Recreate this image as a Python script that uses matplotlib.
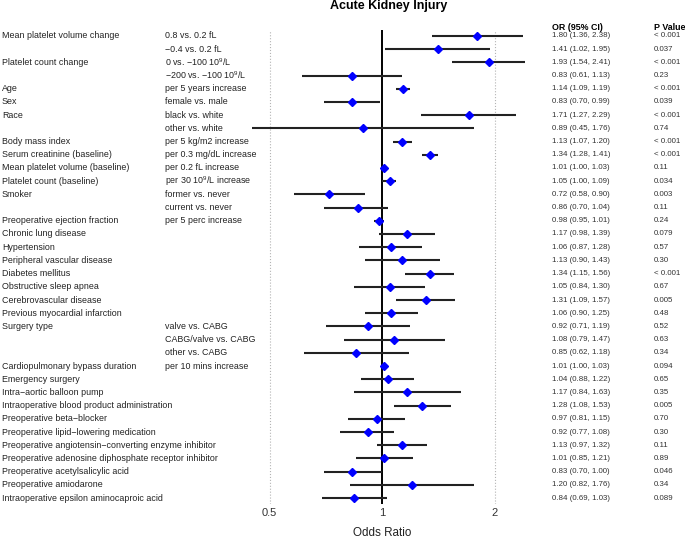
import matplotlib
matplotlib.use("Agg")
import matplotlib.pyplot as plt
import matplotlib.transforms as mtransforms
import numpy as np

plt.rcParams['font.family'] = ['Liberation Sans', 'DejaVu Sans']
plt.rcParams['mathtext.fontset'] = 'custom'
plt.rcParams['mathtext.rm'] = 'Liberation Sans'
plt.rcParams['mathtext.it'] = 'Liberation Sans'

# data
labels = ["Mean platelet volume change", "", "Platelet count change", "",
          "Age", "Sex", "Race", "",
          "Body mass index", "Serum creatinine (baseline)",
          "Mean platelet volume (baseline)", "Platelet count (baseline)",
          "Smoker", "", "Preoperative ejection fraction",
          "Chronic lung disease", "Hypertension", "Peripheral vascular disease",
          "Diabetes mellitus", "Obstructive sleep apnea", "Cerebrovascular disease",
          "Previous myocardial infarction", "Surgery type", "", "",
          "Cardiopulmonary bypass duration", "Emergency surgery",
          "Intra\u2212aortic balloon pump",
          "Intraoperative blood product administration",
          "Preoperative beta\u2212blocker",
          "Preoperative lipid\u2212lowering medication",
          "Preoperative angiotensin\u2212converting enzyme inhibitor",
          "Preoperative adenosine diphosphate receptor inhibitor",
          "Preoperative acetylsalicylic acid", "Preoperative amiodarone",
          "Intraoperative epsilon aminocaproic acid"]
sublabels = ["0.8 vs. 0.2 fL", "\u22120.4 vs. 0.2 fL",
             "0 vs. \u2212100 10$^9$/L", "\u2212200 vs. \u2212100 10$^9$/L",
             "per 5 years increase", "female vs. male",
             "black vs. white", "other vs. white",
             "per 5 kg/m2 increase", "per 0.3 mg/dL increase",
             "per 0.2 fL increase", "per 30 10$^9$/L increase",
             "former vs. never", "current vs. never", "per 5 perc increase",
             "", "", "", "", "", "", "",
             "valve vs. CABG", "CABG/valve vs. CABG", "other vs. CABG",
             "per 10 mins increase",
             "", "", "", "", "", "", "", "", "", ""]
odds = [1.80, 1.41, 1.93, 0.83, 1.14, 0.83, 1.71, 0.89, 1.13, 1.34, 1.01, 1.05,
        0.72, 0.86, 0.98, 1.17, 1.06, 1.13, 1.34, 1.05, 1.31, 1.06, 0.92, 1.08,
        0.85, 1.01, 1.04, 1.17, 1.28, 0.97, 0.92, 1.13, 1.01, 0.83, 1.20, 0.84]
ci_low = [1.36, 1.02, 1.54, 0.61, 1.09, 0.70, 1.27, 0.45, 1.07, 1.28, 1.00, 1.00,
          0.58, 0.70, 0.95, 0.98, 0.87, 0.90, 1.15, 0.84, 1.09, 0.90, 0.71, 0.79,
          0.62, 1.00, 0.88, 0.84, 1.08, 0.81, 0.77, 0.97, 0.85, 0.70, 0.82, 0.69]
ci_high = [2.38, 1.95, 2.41, 1.13, 1.19, 0.99, 2.29, 1.76, 1.20, 1.41, 1.03, 1.09,
           0.90, 1.04, 1.01, 1.39, 1.28, 1.43, 1.56, 1.30, 1.57, 1.25, 1.19, 1.47,
           1.18, 1.03, 1.22, 1.63, 1.53, 1.15, 1.08, 1.32, 1.21, 1.00, 1.76, 1.03]
pvals = ["< 0.001", "0.037", "< 0.001", "0.23", "< 0.001", "0.039", "< 0.001",
         "0.74", "< 0.001", "< 0.001", "0.11", "0.034", "0.003", "0.11", "0.24",
         "0.079", "0.57", "0.30", "< 0.001", "0.67", "0.005", "0.48", "0.52",
         "0.63", "0.34", "0.094", "0.65", "0.35", "0.005", "0.70", "0.30", "0.11",
         "0.89", "0.046", "0.34", "0.089"]
xticks = [0.5, 1, 2]
xtick_labels = ["0.5", "1", "2"]

W, H = 685, 540
fig = plt.figure(figsize=(W / 100, H / 100), dpi=100)

# axes placed in pixels: 1 at x=382, one doubling = 112.5 px
xmin, xmax = 0.42, 2.6
L = 382 + 112.5 * np.log2(xmin)
R = 382 + 112.5 * np.log2(xmax)
top, bottom = 30, 504
ax = fig.add_axes([L / W, 1 - bottom / H, (R - L) / W, (bottom - top) / H])
ax.set_xscale('log')
ax.set_xlim(xmin, xmax)
ax.set_ylim(36.45, 0.55)

y = np.arange(1, len(odds) + 1)

ax.axvline(0.5, color='#b4b4b4', lw=0.8, ls=':', zorder=0)
ax.axvline(2, color='#b4b4b4', lw=0.8, ls=':', zorder=0)
ax.axvline(1, color='black', lw=1.4, zorder=1)
ax.hlines(y, ci_low, ci_high, color='#222222', lw=1.5, zorder=2)
ax.plot(odds, y, 'D', color='#0000ff', markersize=4.5, zorder=3, lw=0)

for s in ax.spines.values():
    s.set_visible(False)
ax.set_yticks([])
ax.set_xticks(xticks)
ax.set_xticklabels(xtick_labels)
ax.xaxis.set_minor_locator(matplotlib.ticker.NullLocator())
ax.tick_params(axis='x', length=0, pad=3, labelsize=8, labelcolor='#333333')

trans = mtransforms.blended_transform_factory(fig.transFigure, ax.transData)
fs = 6.4
for i in range(len(odds)):
    ax.text(2 / W, y[i], labels[i], transform=trans, fontsize=fs,
            va='center', ha='left', color='#222222')
    if sublabels[i]:
        ax.text(165 / W, y[i], sublabels[i], transform=trans, fontsize=fs,
                va='center', ha='left', color='#222222')
    ax.text(552 / W, y[i], "%.2f (%.2f, %.2f)" % (odds[i], ci_low[i], ci_high[i]),
            transform=trans, fontsize=5.7, va='center', ha='left', color='#333333')
    ax.text(654 / W, y[i], pvals[i], transform=trans, fontsize=5.7,
            va='center', ha='left', color='#333333')

fig.text(552 / W, 1 - 27 / H, "OR (95% CI)", fontsize=6.4, fontweight='bold',
         va='center', ha='left')
fig.text(654 / W, 1 - 27 / H, "P Value", fontsize=6.4, fontweight='bold',
         va='center', ha='left')
fig.text(389 / W, 1 - 5.5 / H, "Acute Kidney Injury", fontsize=9, fontweight='bold',
         va='center', ha='center')
fig.text(382 / W, 1 - 533 / H, "Odds Ratio", fontsize=8.4, va='center',
         ha='center', color='#222222')

fig.savefig("out.png", dpi=100)
